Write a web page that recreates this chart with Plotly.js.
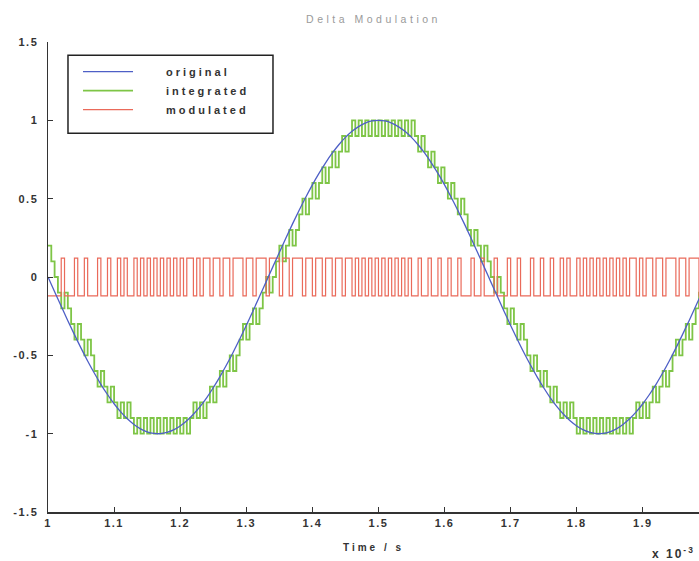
<!DOCTYPE html>
<html><head><meta charset="utf-8">
<script src="https://cdn.plot.ly/plotly-3.0.1.min.js"></script>
<style>
html,body{margin:0;padding:0;background:#fff;}
#chart{width:699px;height:561px;}
.legendtext{letter-spacing:3px;transform:translateX(28px);}
.legend .scrollbox{clip-path:none !important;}
.gtitle{letter-spacing:3.5px;}
.xtitle{letter-spacing:3px;}
.xtick text,.ytick text{letter-spacing:1.5px;}
.annotation-text{letter-spacing:2px;}
</style></head><body><div id="chart"></div>
<script>
// ---- data ----
const seriesNames = ['original', 'integrated', 'modulated'];
const tStart = 1;              // x10^-3 s
const tStepOriginal = 0.01;
const tStepSampled = 0.005;

const original = [
 0,-0.094,-0.187,-0.279,-0.368,-0.454,-0.536,-0.613,-0.685,-0.750,
 -0.809,-0.861,-0.905,-0.941,-0.969,-0.988,-0.998,-1.000,-0.992,-0.976,
 -0.951,-0.918,-0.876,-0.827,-0.771,-0.707,-0.637,-0.562,-0.482,-0.397,
 -0.309,-0.218,-0.125,-0.031,0.063,0.156,0.249,0.339,0.426,0.509,
 0.588,0.661,0.729,0.790,0.844,0.891,0.930,0.960,0.982,0.996,
 1.000,0.996,0.982,0.960,0.930,0.891,0.844,0.790,0.729,0.661,
 0.588,0.509,0.426,0.339,0.249,0.156,0.063,-0.031,-0.125,-0.218,
 -0.309,-0.397,-0.482,-0.562,-0.637,-0.707,-0.771,-0.827,-0.876,-0.918,
 -0.951,-0.976,-0.992,-1.000,-0.998,-0.988,-0.969,-0.941,-0.905,-0.861,
 -0.809,-0.750,-0.685,-0.613,-0.536,-0.454,-0.368,-0.279,-0.187,-0.094,
 0
];

const integrated = [
 0.2,0.1,0,-0.1,-0.2,-0.1,-0.2,-0.3,-0.4,-0.3,
 -0.4,-0.5,-0.4,-0.5,-0.6,-0.7,-0.6,-0.7,-0.8,-0.7,
 -0.8,-0.9,-0.8,-0.9,-0.8,-0.9,-1,-0.9,-1,-0.9,
 -1,-0.9,-1,-0.9,-1,-0.9,-1,-0.9,-1,-0.9,
 -1,-0.9,-1,-0.9,-0.8,-0.9,-0.8,-0.9,-0.8,-0.7,
 -0.8,-0.7,-0.6,-0.7,-0.6,-0.5,-0.6,-0.5,-0.4,-0.3,
 -0.4,-0.3,-0.2,-0.3,-0.2,-0.1,0,-0.1,0,0.1,
 0.2,0.1,0.2,0.3,0.2,0.3,0.4,0.5,0.4,0.5,
 0.6,0.5,0.6,0.7,0.6,0.7,0.8,0.7,0.8,0.9,
 0.8,0.9,1,0.9,1,0.9,1,0.9,1,0.9,
 1,0.9,1,0.9,1,0.9,1,0.9,1,0.9,
 1,0.9,0.8,0.9,0.8,0.7,0.8,0.7,0.6,0.7,
 0.6,0.5,0.6,0.5,0.4,0.5,0.4,0.3,0.2,0.3,
 0.2,0.1,0.2,0.1,0,-0.1,0,-0.1,-0.2,-0.3,
 -0.2,-0.3,-0.4,-0.3,-0.4,-0.5,-0.6,-0.5,-0.6,-0.7,
 -0.6,-0.7,-0.8,-0.7,-0.8,-0.9,-0.8,-0.9,-0.8,-0.9,
 -1,-0.9,-1,-0.9,-1,-0.9,-1,-0.9,-1,-0.9,
 -1,-0.9,-1,-0.9,-1,-0.9,-1,-0.9,-0.8,-0.9,
 -0.8,-0.9,-0.8,-0.7,-0.8,-0.7,-0.6,-0.7,-0.6,-0.5,
 -0.4,-0.5,-0.4,-0.3,-0.4,-0.3,-0.2,-0.1,-0.2,-0.1,
 0
];

const modulated = [
 -0.12,-0.12,-0.12,-0.12,0.12,-0.12,-0.12,-0.12,0.12,-0.12,
 -0.12,0.12,-0.12,-0.12,-0.12,0.12,-0.12,-0.12,0.12,-0.12,
 -0.12,0.12,-0.12,0.12,-0.12,-0.12,0.12,-0.12,0.12,-0.12,
 0.12,-0.12,0.12,-0.12,0.12,-0.12,0.12,-0.12,0.12,-0.12,
 0.12,-0.12,0.12,0.12,-0.12,0.12,-0.12,0.12,0.12,-0.12,
 0.12,0.12,-0.12,0.12,0.12,-0.12,0.12,0.12,0.12,-0.12,
 0.12,0.12,-0.12,0.12,0.12,0.12,-0.12,0.12,0.12,0.12,
 -0.12,0.12,0.12,-0.12,0.12,0.12,0.12,-0.12,0.12,0.12,
 -0.12,0.12,0.12,-0.12,0.12,0.12,-0.12,0.12,0.12,-0.12,
 0.12,0.12,-0.12,0.12,-0.12,0.12,-0.12,0.12,-0.12,0.12,
 -0.12,0.12,-0.12,0.12,-0.12,0.12,-0.12,0.12,-0.12,0.12,
 -0.12,-0.12,0.12,-0.12,-0.12,0.12,-0.12,-0.12,0.12,-0.12,
 -0.12,0.12,-0.12,-0.12,0.12,-0.12,-0.12,-0.12,0.12,-0.12,
 -0.12,0.12,-0.12,-0.12,-0.12,0.12,-0.12,-0.12,-0.12,0.12,
 -0.12,-0.12,0.12,-0.12,-0.12,-0.12,0.12,-0.12,-0.12,0.12,
 -0.12,-0.12,0.12,-0.12,-0.12,0.12,-0.12,0.12,-0.12,-0.12,
 0.12,-0.12,0.12,-0.12,0.12,-0.12,0.12,-0.12,0.12,-0.12,
 0.12,-0.12,0.12,-0.12,0.12,-0.12,0.12,0.12,-0.12,0.12,
 -0.12,0.12,0.12,-0.12,0.12,0.12,-0.12,0.12,0.12,0.12,
 -0.12,0.12,0.12,-0.12,0.12,0.12,0.12,-0.12,0.12,0.12,
 0.12
];

const xTickVals = [1, 1.1, 1.2, 1.3, 1.4, 1.5, 1.6, 1.7, 1.8, 1.9];
const xTickText = ['1', '1.1', '1.2', '1.3', '1.4', '1.5', '1.6', '1.7', '1.8', '1.9'];
const yTickVals = [-1.5, -1, -0.5, 0, 0.5, 1, 1.5];
const yTickText = ['-1.5', '-1', '-0.5', '0', '0.5', '1', '1.5'];

// ---- chart ----
const fam = 'Liberation Sans, Arial, sans-serif';
const tickFont = {family: fam, size: 11, color: '#333', weight: 'bold'};

const traces = [
  {name: seriesNames[1], y: integrated, x0: tStart, dx: tStepSampled, mode: 'lines',
   line: {color: '#7ec546', width: 1.8, shape: 'hv'}, legendrank: 2},
  {name: seriesNames[2], y: modulated, x0: tStart, dx: tStepSampled, mode: 'lines',
   line: {color: '#ea6a5a', width: 1.2, shape: 'hv'}, legendrank: 3},
  {name: seriesNames[0], y: original, x0: tStart, dx: tStepOriginal, mode: 'lines',
   line: {color: '#4e5fc6', width: 1.3, shape: 'spline'}, legendrank: 1}
];

const layout = {
  width: 699, height: 561,
  margin: {l: 48, r: 0, t: 42, b: 49},
  paper_bgcolor: '#ffffff', plot_bgcolor: '#ffffff',
  font: {family: fam, color: '#333'},
  title: {text: 'Delta Modulation', x: 0.5, xref: 'paper', y: 0.966, yanchor: 'middle',
          font: {size: 10.5, color: '#9a9a9a', family: fam}},
  xaxis: {range: [1, 1.985], showline: true, linecolor: '#333', linewidth: 1.5,
          ticks: 'inside', ticklen: 5, tickcolor: '#333', tickwidth: 1,
          tickmode: 'array', tickvals: xTickVals, ticktext: xTickText,
          showgrid: false, zeroline: false, tickfont: tickFont,
          title: {text: 'Time / s', standoff: 16,
                  font: {size: 10, color: '#333', weight: 'bold', family: fam}}},
  yaxis: {range: [-1.5, 1.5], showline: true, linecolor: '#333', linewidth: 1.5,
          ticks: 'inside', ticklen: 5, tickcolor: '#333', tickwidth: 1,
          tickmode: 'array', tickvals: yTickVals, ticktext: yTickText,
          showgrid: false, zeroline: false, tickfont: tickFont, ticklabelstandoff: 6},
  showlegend: true,
  legend: {x: 0.0461, y: 0.968, xanchor: 'left', yanchor: 'top', bgcolor: 'rgba(0,0,0,0)',
           borderwidth: 0, itemwidth: 50, tracegroupgap: 0,
           font: {size: 11, color: '#333', weight: 'bold', family: fam}},
  shapes: [
    {type: 'rect', xref: 'paper', yref: 'paper', x0: 0.0307, x1: 0.3456, y0: 0.806, y1: 0.972,
     line: {color: '#222', width: 1.5}, fillcolor: 'rgba(0,0,0,0)', layer: 'above'}
  ],
  annotations: [
    {text: 'x 10<sup>-3</sup>', xref: 'paper', yref: 'paper', x: 0.997, y: -0.087,
     xanchor: 'right', yanchor: 'middle', showarrow: false,
     font: {size: 12, color: '#333', weight: 'bold', family: fam}}
  ]
};

Plotly.newPlot('chart', traces, layout, {staticPlot: true, displayModeBar: false});
</script>
</body></html>
